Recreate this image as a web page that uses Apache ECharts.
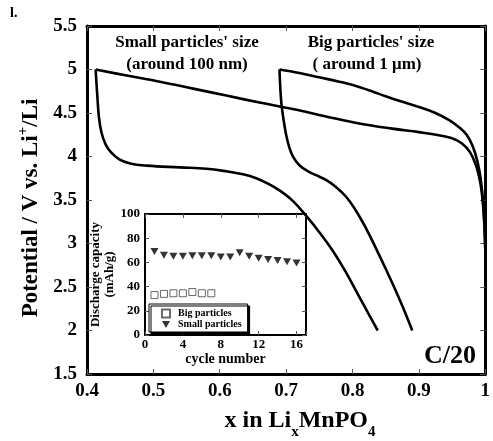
<!DOCTYPE html>
<html>
<head>
<meta charset="utf-8">
<script src="https://cdn.jsdelivr.net/npm/echarts@6.0.0/dist/echarts.min.js"></script>
<style>
html, body { margin: 0; padding: 0; background: #fff; }
#chart { width: 493px; height: 441px; }
</style>
</head>
<body>
<div id="chart"></div>
<script>
/***** data: main panel (x in LixMnPO4, potential V) *****/
var smallCharge = [[0.413, 5.0], [0.46, 4.93], [0.51, 4.86], [0.56, 4.78], [0.61, 4.7], [0.66, 4.62],
	[0.71, 4.545], [0.76, 4.46], [0.81, 4.38], [0.86, 4.32], [0.9, 4.28], [0.93, 4.245], [0.95, 4.21],
	[0.965, 4.15], [0.977, 4.05], [0.986, 3.9], [0.992, 3.72], [0.996, 3.5], [0.9985, 3.25], [1.0, 2.95]];
var smallDischarge = [[0.413, 5.0], [0.4155, 4.7], [0.418, 4.45], [0.422, 4.27], [0.428, 4.14], [0.436, 4.05],
	[0.448, 3.97], [0.465, 3.92], [0.49, 3.895], [0.54, 3.875], [0.58, 3.86], [0.61, 3.83], [0.635, 3.795],
	[0.655, 3.75], [0.672, 3.69], [0.69, 3.61], [0.71, 3.49], [0.73, 3.32], [0.75, 3.13], [0.77, 2.92],
	[0.79, 2.67], [0.81, 2.39], [0.825, 2.18], [0.838, 2.0]];
var bigCharge = [[0.69, 5.0], [0.72, 4.96], [0.75, 4.91], [0.78, 4.86], [0.81, 4.8], [0.84, 4.72],
	[0.87, 4.64], [0.9, 4.57], [0.925, 4.5], [0.945, 4.42], [0.96, 4.34], [0.972, 4.25], [0.981, 4.12],
	[0.988, 3.95], [0.993, 3.75], [0.997, 3.45], [1.0, 2.95]];
var bigDischarge = [[0.69, 5.0], [0.6915, 4.75], [0.693, 4.6], [0.696, 4.43], [0.7, 4.25], [0.705, 4.1],
	[0.711, 3.99], [0.72, 3.9], [0.732, 3.835], [0.745, 3.785], [0.76, 3.73], [0.775, 3.65], [0.79, 3.54],
	[0.805, 3.38], [0.82, 3.18], [0.835, 2.95], [0.85, 2.71], [0.865, 2.46], [0.878, 2.23], [0.89, 2.0]];

/***** data: inset (cycle number, discharge capacity mAh/g) *****/
var smallCycles = [1, 2, 3, 4, 5, 6, 7, 8, 9, 10, 11, 12, 13, 14, 15, 16];
var smallCapacity = [69, 66, 65, 65, 65.5, 65.5, 65.5, 64.5, 64.5, 68, 65, 63.5, 62.5, 61.5, 60.5, 59.5];
var bigCycles = [1, 2, 3, 4, 5, 6, 7];
var bigCapacity = [33, 34, 34.5, 34.5, 35.5, 34.5, 34.5];

var FONT = '"Liberation Serif", "Times New Roman", serif';
var triangleDown = 'path://M0,0L10,0L5,9Z';

function pairs(xs, ys) {
	var out = [];
	for (var i = 0; i < xs.length; i++) {
		out.push([xs[i], ys[i]]);
	}
	return out;
}

function curve(name, data) {
	return {
		name: name, type: 'line', xAxisIndex: 0, yAxisIndex: 0, data: data,
		smooth: 0.4, showSymbol: false, silent: true,
		lineStyle: { color: '#000', width: 2.6, join: 'round' }
	};
}

function frameAxis(gridIndex, pos, min, max, interval, width, tickLen, labels, fontSize, margin) {
	return {
		type: 'value', gridIndex: gridIndex, position: pos, min: min, max: max, interval: interval,
		axisLine: { show: true, onZero: false, lineStyle: { color: '#000', width: width } },
		axisTick: { show: true, inside: true, length: tickLen, lineStyle: { color: '#555', width: 1 } },
		axisLabel: {
			show: labels, margin: margin, color: '#000', fontFamily: FONT, fontWeight: 'bold', fontSize: fontSize,
			formatter: function (v) { return gridIndex === 1 && pos === 'bottom' && v % 4 !== 0 ? '' : String(v); }
		},
		splitLine: { show: false }
	};
}

var xInset = frameAxis(1, 'bottom', 0, 17, 4, 2, 4, true, 13, 3);
xInset.name = 'cycle number';
xInset.nameLocation = 'middle';
xInset.nameGap = 15;
xInset.nameTextStyle = { fontFamily: FONT, fontWeight: 'bold', fontSize: 14, color: '#000' };

var yInset = frameAxis(1, 'left', 0, 100, 20, 2, 4, true, 13, 5);
yInset.name = 'Discharge capacity\n(mAh/g)';
yInset.nameLocation = 'middle';
yInset.nameGap = 22;
yInset.nameTextStyle = { fontFamily: FONT, fontWeight: 'bold', fontSize: 13, lineHeight: 14, color: '#000' };

// axis titles with sub/superscripts
var titleRich = {
	b: { fontFamily: FONT, fontWeight: 'bold', fontSize: 24, lineHeight: 26, fill: '#000' },
	s: { fontFamily: FONT, fontWeight: 'bold', fontSize: 15, lineHeight: 14, padding: [22, 0, 0, 0], fill: '#000' },
	y: { fontFamily: FONT, fontWeight: 'bold', fontSize: 23, lineHeight: 26, fill: '#000' },
	p: { fontFamily: FONT, fontWeight: 'bold', fontSize: 15, lineHeight: 15, padding: [0, 0, 16, 0], fill: '#000' }
};

function label(text, x, y, size) {
	return {
		type: 'text', x: x, y: y, silent: true,
		style: { text: text, font: 'bold ' + size + 'px ' + FONT, fill: '#000', textAlign: 'center', textVerticalAlign: 'middle' }
	};
}

var myChart = echarts.init(document.getElementById('chart'), null, { renderer: 'canvas' });

myChart.setOption({
	animation: false,
	backgroundColor: '#fff',
	grid: [
		{ left: 87, top: 26, width: 404, height: 348 },
		{ left: 145, top: 214, width: 161, height: 121, show: true, backgroundColor: '#fff', borderWidth: 0 }
	],
	xAxis: [
		frameAxis(0, 'bottom', 0.4, 1, 0.1, 3, 5, true, 19, 8),
		frameAxis(0, 'top', 0.4, 1, 0.1, 3, 5, false, 19, 8),
		xInset,
		frameAxis(1, 'top', 0, 17, 4, 2, 4, false, 13, 3)
	],
	yAxis: [
		frameAxis(0, 'left', 1.5, 5.5, 0.5, 3, 5, true, 19, 10),
		frameAxis(0, 'right', 1.5, 5.5, 0.5, 3, 5, false, 19, 10),
		yInset,
		frameAxis(1, 'right', 0, 100, 20, 2, 4, false, 13, 5)
	],
	legend: {
		left: 149, top: 304, orient: 'vertical',
		data: [
			{ name: 'Big particles', icon: 'rect' },
			{ name: 'Small particles', icon: triangleDown }
		],
		itemWidth: 8, itemHeight: 8, itemGap: 0,
		padding: [4, 6, 2, 12],
		backgroundColor: '#fff', borderColor: '#000', borderWidth: 1,
		shadowColor: '#000', shadowBlur: 0, shadowOffsetX: 2, shadowOffsetY: 2,
		textStyle: { fontFamily: FONT, fontWeight: 'bold', fontSize: 10, lineHeight: 11, color: '#000', padding: [0, 0, 0, 3] },
		selectedMode: false
	},
	graphic: [
		{ type: 'text', left: 10, top: 6, style: { text: 'l.', font: 'bold 14px ' + FONT, fill: '#000' } },
		label("Small particles' size", 187, 43, 17),
		label('(around 100 nm)', 187, 65, 17),
		label("Big particles' size", 371, 43, 17),
		label('( around 1 μm)', 367, 65, 17),
		label('C/20', 450, 356, 26),
		{
			type: 'text', x: 300, y: 421, silent: true,
			style: { text: '{b|x in Li}{s|x}{b|MnPO}{s|4}', rich: titleRich, textAlign: 'center', textVerticalAlign: 'middle' }
		},
		{
			type: 'text', x: 31, y: 208, rotation: Math.PI / 2, silent: true,
			style: { text: '{y|Potential / V vs. Li}{p|+}{y|/Li}', rich: titleRich, textAlign: 'center', textVerticalAlign: 'middle' }
		}
	],
	series: [
		curve('small charge', smallCharge),
		curve('small discharge', smallDischarge),
		curve('big charge', bigCharge),
		curve('big discharge', bigDischarge),
		{
			name: 'Big particles', type: 'scatter', xAxisIndex: 2, yAxisIndex: 2,
			data: pairs(bigCycles, bigCapacity), symbol: 'rect', symbolSize: 7,
			itemStyle: { color: '#fff', borderColor: '#444', borderWidth: 1 }
		},
		{
			name: 'Small particles', type: 'scatter', xAxisIndex: 2, yAxisIndex: 2,
			data: pairs(smallCycles, smallCapacity), symbol: triangleDown, symbolSize: [8, 7],
			itemStyle: { color: '#000' }
		}
	]
});
</script>
</body>
</html>
